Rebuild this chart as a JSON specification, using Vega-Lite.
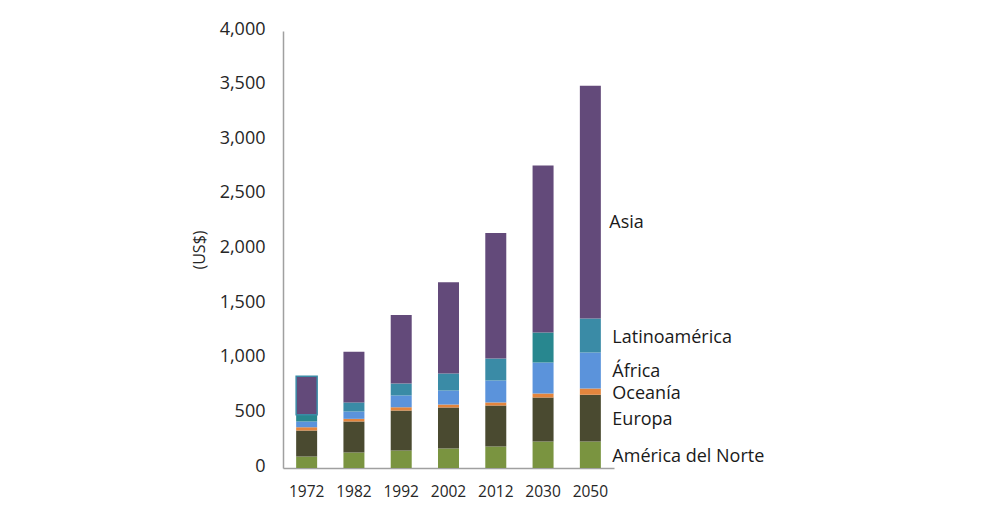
{
  "$schema": "https://vega.github.io/schema/vega-lite/v6.json",
  "autosize": {"type": "none"},
  "padding": {"left": 283, "top": 31, "right": 370, "bottom": 45},
  "width": 331,
  "height": 437,
  "background": "#ffffff",
  "config": {
    "font": "Open Sans",
    "view": {"stroke": null},
    "axis": {"grid": false, "ticks": false, "domainColor": "#A0A0A0", "domainWidth": 1.5, "labelColor": "#262626", "titleColor": "#262626", "labelFont": "Open Sans", "titleFont": "Open Sans"}
  },
  "data": {
    "values": [
      {"year": "1972", "region": "América del Norte", "orden": 1, "value": 105},
      {"year": "1972", "region": "Europa", "orden": 2, "value": 238},
      {"year": "1972", "region": "Oceanía", "orden": 3, "value": 30},
      {"year": "1972", "region": "África", "orden": 4, "value": 53},
      {"year": "1972", "region": "Latinoamérica", "orden": 5, "value": 61},
      {"year": "1972", "region": "Asia", "orden": 6, "value": 353},
      {"year": "1982", "region": "América del Norte", "orden": 1, "value": 142},
      {"year": "1982", "region": "Europa", "orden": 2, "value": 284},
      {"year": "1982", "region": "Oceanía", "orden": 3, "value": 24},
      {"year": "1982", "region": "África", "orden": 4, "value": 67},
      {"year": "1982", "region": "Latinoamérica", "orden": 5, "value": 83},
      {"year": "1982", "region": "Asia", "orden": 6, "value": 465},
      {"year": "1992", "region": "América del Norte", "orden": 1, "value": 160},
      {"year": "1992", "region": "Europa", "orden": 2, "value": 366},
      {"year": "1992", "region": "Oceanía", "orden": 3, "value": 30},
      {"year": "1992", "region": "África", "orden": 4, "value": 108},
      {"year": "1992", "region": "Latinoamérica", "orden": 5, "value": 109},
      {"year": "1992", "region": "Asia", "orden": 6, "value": 627},
      {"year": "2002", "region": "América del Norte", "orden": 1, "value": 179},
      {"year": "2002", "region": "Europa", "orden": 2, "value": 375},
      {"year": "2002", "region": "Oceanía", "orden": 3, "value": 27},
      {"year": "2002", "region": "África", "orden": 4, "value": 128},
      {"year": "2002", "region": "Latinoamérica", "orden": 5, "value": 156},
      {"year": "2002", "region": "Asia", "orden": 6, "value": 835},
      {"year": "2012", "region": "América del Norte", "orden": 1, "value": 197},
      {"year": "2012", "region": "Europa", "orden": 2, "value": 375},
      {"year": "2012", "region": "Oceanía", "orden": 3, "value": 28},
      {"year": "2012", "region": "África", "orden": 4, "value": 201},
      {"year": "2012", "region": "Latinoamérica", "orden": 5, "value": 201},
      {"year": "2012", "region": "Asia", "orden": 6, "value": 1148},
      {"year": "2030", "region": "América del Norte", "orden": 1, "value": 243},
      {"year": "2030", "region": "Europa", "orden": 2, "value": 402},
      {"year": "2030", "region": "Oceanía", "orden": 3, "value": 37},
      {"year": "2030", "region": "África", "orden": 4, "value": 284},
      {"year": "2030", "region": "Latinoamérica", "orden": 5, "value": 274},
      {"year": "2030", "region": "Asia", "orden": 6, "value": 1530},
      {"year": "2050", "region": "América del Norte", "orden": 1, "value": 243},
      {"year": "2050", "region": "Europa", "orden": 2, "value": 427},
      {"year": "2050", "region": "Oceanía", "orden": 3, "value": 58},
      {"year": "2050", "region": "África", "orden": 4, "value": 329},
      {"year": "2050", "region": "Latinoamérica", "orden": 5, "value": 311},
      {"year": "2050", "region": "Asia", "orden": 6, "value": 2132}
    ]
  },
  "encoding": {
    "x": {
      "field": "year", "type": "nominal", "title": null,
      "scale": {"paddingInner": 0.556, "paddingOuter": 0.278},
      "axis": {"labelAngle": 0, "labelFontSize": 15.5, "labelPadding": 16}
    },
    "order": {"field": "orden", "type": "quantitative", "sort": "ascending"}
  },
  "layer": [
    {
      "mark": {"type": "bar"},
      "encoding": {
        "y": {
          "aggregate": "sum", "field": "value", "type": "quantitative", "stack": "zero",
          "title": "(US$)",
          "scale": {"domain": [0, 4000]},
          "axis": {"values": [0, 500, 1000, 1500, 2000, 2500, 3000, 3500, 4000], "format": ",.0f", "labelFontSize": 18, "labelPadding": 18, "labelOffset": -2, "titleFontSize": 16, "titleFontWeight": "normal", "titlePadding": 12}
        },
        "color": {
          "condition": {"test": "(datum.year === '2030' || datum.year === '1972') && datum.region === 'Latinoamérica'", "value": "#28878F"},
          "field": "region", "type": "nominal",
          "scale": {
            "domain": ["América del Norte", "Europa", "Oceanía", "África", "Latinoamérica", "Asia"],
            "range": ["#7A9440", "#4A4A30", "#E3853D", "#5B93DB", "#3A8BA6", "#634A7A"]
          },
          "legend": null
        },
        "stroke": {
          "condition": {"test": "datum.year === '1972' && datum.region === 'Asia'", "value": "#3A8BA6"},
          "value": null
        },
        "strokeWidth": {"value": 1.5}
      }
    },
    {
      "transform": [{"filter": "datum.year === '2050'"}],
      "mark": {"type": "text", "align": "left", "baseline": "middle", "dx": 22, "dy": 2, "fontSize": 18, "font": "Open Sans", "color": "#1a1a1a"},
      "encoding": {
        "y": {"aggregate": "sum", "field": "value", "type": "quantitative", "stack": "zero", "bandPosition": 0.5},
        "detail": {"field": "region", "type": "nominal"},
        "text": {"condition": {"test": "datum.region !== 'Asia'", "field": "region"}, "value": ""}
      }
    },
    {
      "transform": [{"filter": "datum.year === '2050'"}],
      "mark": {"type": "text", "align": "left", "baseline": "middle", "dx": 19, "dy": 2, "fontSize": 18, "font": "Open Sans", "color": "#1a1a1a"},
      "encoding": {
        "y": {"aggregate": "sum", "field": "value", "type": "quantitative", "stack": "zero", "bandPosition": 0.42},
        "detail": {"field": "region", "type": "nominal"},
        "text": {"condition": {"test": "datum.region === 'Asia'", "field": "region"}, "value": ""}
      }
    }
  ]
}
